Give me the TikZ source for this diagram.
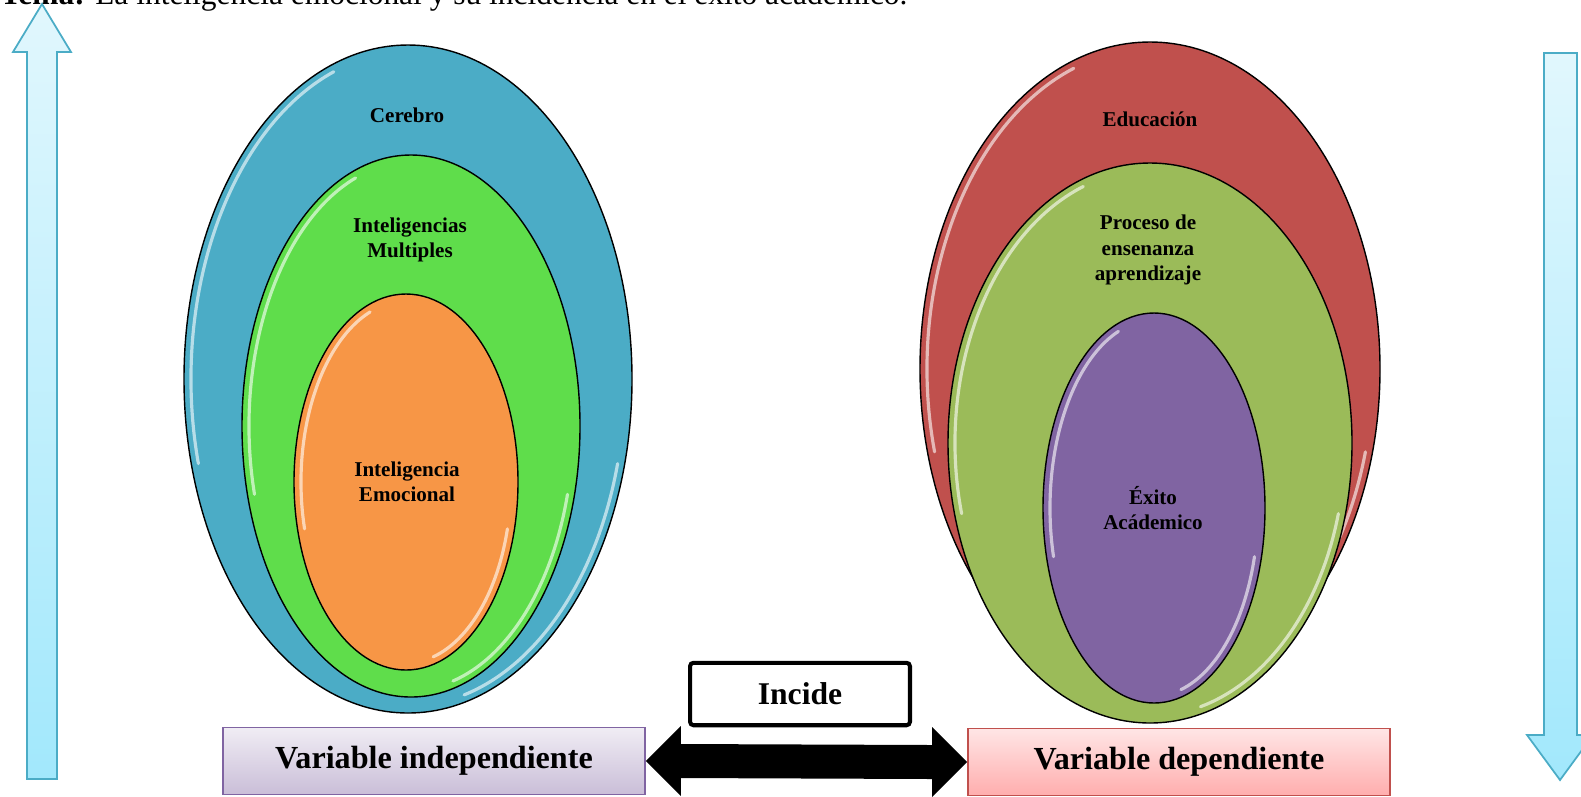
\documentclass[tikz,border=0pt]{standalone}
\usepackage{fontspec}
\setmainfont{Liberation Serif}
\usetikzlibrary{calc}

\definecolor{azul}{HTML}{4BACC6}
\definecolor{verde}{HTML}{5FDD4B}
\definecolor{naranja}{HTML}{F79646}
\definecolor{rojo}{HTML}{C0504D}
\definecolor{oliva}{HTML}{9BBB59}
\definecolor{morado}{HTML}{8064A2}
\definecolor{cielo}{HTML}{E1F7FD}
\definecolor{celeste}{HTML}{A2E8FC}

\tikzset{
	egg/.style={draw=black, line width=0.8pt},
	brillo/.style={white, opacity=.6, line width=1.8pt, line cap=round},
	lbl/.style={font=\bfseries\fontsize{12}{14}\selectfont, align=center, inner sep=0},
	varbox/.style={line width=1pt, minimum width=8.44cm, minimum height=1.34cm, font=\bfseries\fontsize{18.3}{20}\selectfont},
	flecha/.style={draw=azul, line width=1pt, top color=cielo, bottom color=celeste}
}

% x, y, rx, ry, colour
\newcommand{\huevo}[5]{%
	\draw[egg, fill=#5] (#1,#2) ellipse [x radius=#3, y radius=#4];
	\draw[brillo] (#1,#2) ++(165:#3-7 and #4-7) arc [start angle=165, end angle=250, x radius=#3-7, y radius=#4-7];
	\draw[brillo] (#1,#2) ++(15:#3-7 and #4-7) arc [start angle=15, end angle=75, x radius=#3-7, y radius=#4-7];
}

\begin{document}
\begin{tikzpicture}[x=0.02cm, y=-0.02cm]
	\useasboundingbox (0,0) rectangle (1581,796);
	\clip (0,0) rectangle (1581,796);
	\node[anchor=base west, inner sep=0, font=\fontsize{17.9}{20}\selectfont] (tema) at (0,4) {\textbf{Tema:} La inteligencia emocional y su incidencia en el éxito académico.};

	\draw[flecha] (27,779) -- (27,52) -- (13,52) -- (42,4) -- (71,52) -- (57,52) -- (57,779) -- cycle;
	\draw[flecha] (1544,53) -- (1544,735) -- (1527,735) -- (1560,780) -- (1593,735) -- (1577,735) -- (1577,53) -- cycle;

	\huevo{408}{379}{224}{334}{azul}
	\huevo{411}{426}{169}{271}{verde}
	\huevo{406}{482}{112}{188}{naranja}
	\node[lbl] (cerebro) at (407,115) {Cerebro};
	\node[lbl] (multiples) at (410,240) {Inteligencias\\Multiples};
	\node[lbl] (emocional) at (407,482) {Inteligencia\\Emocional};

	\huevo{1150}{369}{230}{327}{rojo}
	\huevo{1150}{443}{202}{280}{oliva}
	\huevo{1154}{508}{111}{195}{morado}
	\node[lbl] (educacion) at (1150,119) {Educación};
	\node[lbl, font=\bfseries\fontsize{12}{14.3}\selectfont] (proceso) at (1148,250) {Proceso de\\ensenanza\\aprendizaje};
	\node[lbl, font=\bfseries\fontsize{12}{14.3}\selectfont] (exito) at (1153,508) {Éxito\\Acádemico};

	\node[varbox, draw=morado, top color=morado!12, bottom color=morado!42] (vi) at (434,761) {Variable independiente};
	\node[varbox, draw=rojo, top color=red!10, bottom color=red!32] (vd) at (1179,762) {Variable dependiente};
	\node[draw, line width=2.3pt, rounded corners=2pt, minimum width=4.4cm, minimum height=1.25cm, font=\bfseries\fontsize{18}{20}\selectfont] (incide) at (800,694) {Incide};

	\fill (vi.east) -- ++(35,-35) -- ++(0,18) -- ($(vd.west)+(-35,-17)$) -- ++(0,-18) -- (vd.west) -- ++(-35,35) -- ++(0,-18) -- ($(vi.east)+(35,17)$) -- ++(0,18) -- cycle;
\end{tikzpicture}
\end{document}
